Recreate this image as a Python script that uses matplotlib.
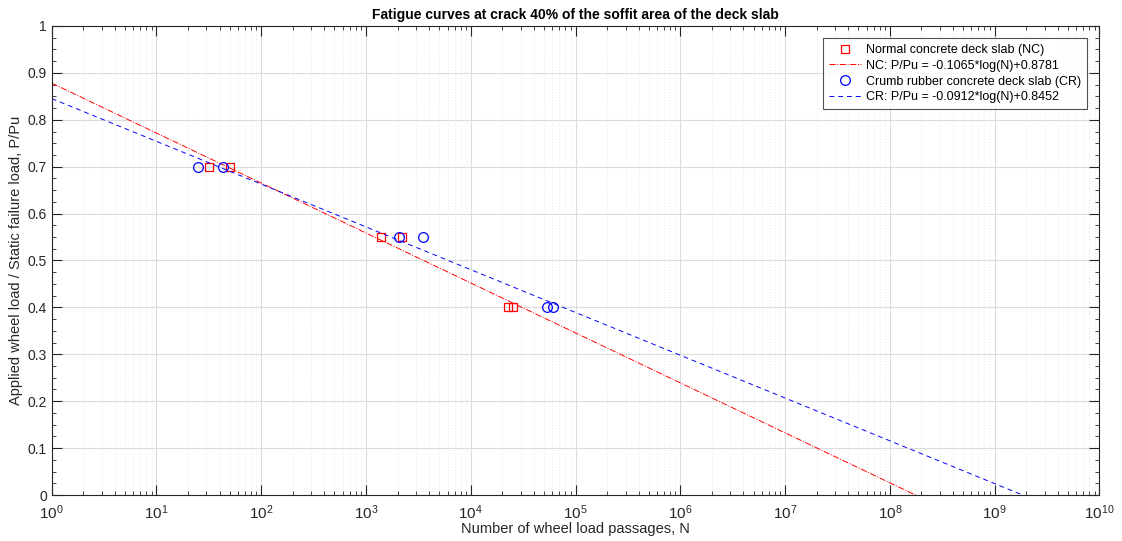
import numpy as np
import matplotlib
matplotlib.use('Agg')
import matplotlib.pyplot as plt
from matplotlib.ticker import LogLocator, MultipleLocator, FormatStrFormatter

plt.rcParams['font.family'] = ['Liberation Sans', 'DejaVu Sans']

# test data (load ratio vs wheel passages)
nc_cycles = [32, 50, 1380, 2210, 22700, 25400]
nc_ratio = [0.70, 0.70, 0.55, 0.55, 0.40, 0.40]
cr_cycles = [25, 43, 2070, 3500, 52900, 60400]
cr_ratio = [0.70, 0.70, 0.55, 0.55, 0.40, 0.40]

# fitted lines P/Pu = a*log10(N) + b
nc_fit = (-0.1065, 0.8781)
cr_fit = (-0.0912, 0.8452)

title = 'Fatigue curves at crack 40% of the soffit area of the deck slab'
xlabel = 'Number of wheel load passages, N'
ylabel = 'Applied wheel load / Static failure load, P/Pu'

fig = plt.figure(figsize=(11.22, 5.41), dpi=100)
ax = fig.add_axes([0.0461, 0.085, 0.9337, 0.867])

n = np.logspace(0, 10, 400)
ax.semilogx(nc_cycles, nc_ratio, 's', mfc='none', mec='#ff0000', ms=6, mew=0.9,
            label='Normal concrete deck slab (NC)')
ax.semilogx(n, nc_fit[0] * np.log10(n) + nc_fit[1], '-.', color='#ff0000', lw=0.7,
            label=f'NC: P/Pu = {nc_fit[0]}*log(N)+{nc_fit[1]}')
ax.semilogx(cr_cycles, cr_ratio, 'o', mfc='none', mec='#0000ff', ms=7, mew=0.9,
            label='Crumb rubber concrete deck slab (CR)')
ax.semilogx(n, cr_fit[0] * np.log10(n) + cr_fit[1], '--', color='#0000ff', lw=0.7,
            dashes=(5, 4), label=f'CR: P/Pu = {cr_fit[0]}*log(N)+{cr_fit[1]}')

ax.set_xlim(1, 1e10)
ax.set_ylim(0, 1)
ax.xaxis.set_major_locator(LogLocator(base=10, numticks=12))
ax.xaxis.set_minor_locator(LogLocator(base=10, subs=np.arange(2, 10), numticks=12))
ax.yaxis.set_major_locator(MultipleLocator(0.1))
ax.yaxis.set_minor_locator(MultipleLocator(0.025))
ax.yaxis.set_major_formatter(FormatStrFormatter('%g'))

ax.grid(True, which='major', color='#dcdcdc', lw=0.8)
ax.grid(True, which='minor', axis='x', color='#d4d4d4', lw=0.5, ls=(0, (1, 3)))
ax.set_axisbelow(True)

ax.tick_params(which='both', direction='in', top=True, right=True, labelsize=10,
               color='#262626', labelcolor='#262626')
ax.tick_params(which='major', length=7, width=0.8)
ax.tick_params(which='minor', length=3, width=0.6)
ax.tick_params(axis='x', which='major', labelsize=11, pad=6)
for s in ax.spines.values():
    s.set_color('#262626')
    s.set_linewidth(0.8)

ax.set_title(title, fontsize=10, fontweight='bold', pad=5)
ax.set_xlabel(xlabel, fontsize=10.5, color='#262626', labelpad=0)
ax.set_ylabel(ylabel, fontsize=10.5, color='#262626', labelpad=3)

leg = ax.legend(loc='upper right', fontsize=9, frameon=True, fancybox=False,
                borderaxespad=1.0, handlelength=2.6, labelspacing=0.3,
                borderpad=0.45, handletextpad=0.4)
leg.get_frame().set_edgecolor('#262626')
leg.get_frame().set_linewidth(0.8)

fig.savefig('out.png', dpi=100)
